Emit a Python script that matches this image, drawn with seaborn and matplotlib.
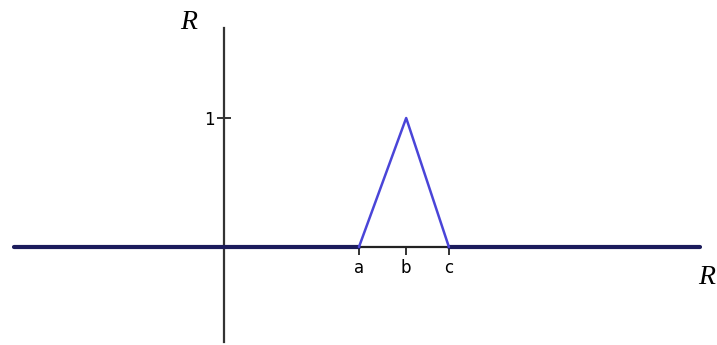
import matplotlib
matplotlib.use('Agg')
import matplotlib.pyplot as plt
import seaborn as sns
import pandas as pd

# triangular membership function: a, b, c on the x axis, peak 1 at b
x_points = [-4.67, 3, 4.05, 5, 10.58]
mu_points = [0, 0, 1, 0, 0]
x_tick_pos = [3, 4.05, 5]
x_tick_labels = ['a', 'b', 'c']
y_tick_pos = [1]
y_tick_labels = ['1']

df = pd.DataFrame({'x': x_points, 'mu': mu_points})

sns.set_style('white')
fig = plt.figure(figsize=(7.17, 3.45), dpi=100)
ax = fig.add_axes([0, 0, 1, 1])

# flat parts drawn heavier (line lies on the axis), triangle in blue
sns.lineplot(data=df.iloc[:2], x='x', y='mu', ax=ax, color='#1c1c5c', lw=3, zorder=4)
sns.lineplot(data=df.iloc[3:], x='x', y='mu', ax=ax, color='#1c1c5c', lw=3, zorder=4)
sns.lineplot(data=df.iloc[1:4], x='x', y='mu', ax=ax, color='#4a45d8', lw=1.8, zorder=5)

ax.set_xlim(-4.98, 10.96)
ax.set_ylim(-0.76, 1.915)

for s in ['top', 'right']:
    ax.spines[s].set_visible(False)
ax.spines['left'].set_position(('data', 0))
ax.spines['bottom'].set_position(('data', 0))
ax.spines['left'].set_bounds(-0.74, 1.70)
ax.spines['bottom'].set_bounds(-4.67, 10.58)
ax.spines['left'].set_color('#333333')
ax.spines['bottom'].set_color('#222222')
ax.spines['left'].set_linewidth(1.6)
ax.spines['bottom'].set_linewidth(1.6)

ax.set_xticks(x_tick_pos)
ax.set_xticklabels(x_tick_labels, fontsize=12)
ax.set_yticks(y_tick_pos)
ax.set_yticklabels(y_tick_labels, fontsize=12)
ax.tick_params(axis='x', bottom=True, direction='out', length=6, width=1.3, pad=3,
               colors='#222222')
ax.tick_params(axis='y', left=True, direction='inout', length=10, width=1.3, pad=2,
               colors='#222222')
for t in ax.get_xticklabels() + ax.get_yticklabels():
    t.set_color('black')
ax.set_xlabel('')
ax.set_ylabel('')

ax.text(-0.78, 1.74, 'R', fontsize=20, style='italic', family='Liberation Serif',
        ha='center', va='center', color='black')
ax.text(10.72, -0.24, 'R', fontsize=20, style='italic', family='Liberation Serif',
        ha='center', va='center', color='black')

fig.savefig('out.png', dpi=100)
plt.close(fig)
